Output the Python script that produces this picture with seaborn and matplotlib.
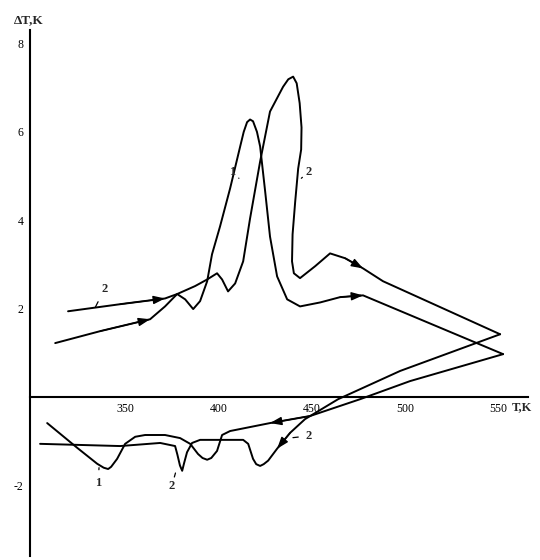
import matplotlib
matplotlib.use("Agg")
import matplotlib.pyplot as plt
import seaborn as sns
import pandas as pd

# DTA curves (T in K, dT in K)
# curve 1, heating
t1_heat = [312.5, 336.6, 363.4, 371.4, 377.9, 382.2, 386.5, 390.2, 394.0, 396.6,
           400.9, 406.3, 411.7, 413.6, 415.4, 417.0, 418.6, 420.7, 422.4, 425.1,
           427.7, 431.5, 436.9, 443.8, 454.6, 465.3, 477.6, 552.7]
d1_heat = [1.22, 1.49, 1.76, 2.05, 2.33, 2.21, 1.99, 2.17, 2.62, 3.23,
           3.86, 4.72, 5.67, 6.00, 6.22, 6.28, 6.24, 6.00, 5.67, 4.65,
           3.63, 2.73, 2.21, 2.05, 2.14, 2.26, 2.30, 0.97]
# curve 1, cooling
t1_cool = [552.7, 502.8, 476.0, 449.2, 427.7, 406.3, 402.0, 399.3, 396.2, 394.0,
           391.5, 389.1, 384.9, 379.5, 371.4, 360.7, 355.4, 350.0, 345.7, 342.5,
           340.9, 338.5, 335.0, 324.3, 308.2]
d1_cool = [0.97, 0.36, -0.05, -0.43, -0.59, -0.77, -0.86, -1.22, -1.38, -1.42,
           -1.38, -1.29, -1.06, -0.93, -0.86, -0.86, -0.90, -1.06, -1.40, -1.58,
           -1.63, -1.60, -1.51, -1.15, -0.59]
# curve 2, heating
t2_heat = [319.4, 347.3, 371.4, 377.9, 387.5, 394.0, 399.3, 402.0, 405.2, 409.0,
           413.3, 417.0, 422.4, 427.7, 434.7, 437.5, 440.1, 442.0, 443.6, 444.6,
           444.4, 442.8, 441.2, 439.8, 439.5, 440.5, 443.8, 451.9, 459.9, 468.0,
           477.6, 488.3, 551.1]
d2_heat = [1.94, 2.10, 2.23, 2.33, 2.51, 2.66, 2.80, 2.66, 2.39, 2.57,
           3.07, 4.04, 5.33, 6.46, 7.02, 7.19, 7.25, 7.10, 6.65, 6.10,
           5.60, 5.17, 4.42, 3.68, 3.07, 2.80, 2.69, 2.96, 3.25, 3.14,
           2.91, 2.62, 1.42]
# curve 2, cooling
t2_cool = [551.1, 497.5, 464.2, 446.5, 438.5, 431.5, 426.7, 424.3, 422.4, 420.3,
           418.6, 416.0, 413.3, 390.2, 385.9, 383.2, 381.6, 380.6, 379.4, 378.0,
           376.8, 368.8, 347.3, 304.4]
d2_cool = [1.42, 0.59, -0.05, -0.50, -0.81, -1.17, -1.44, -1.52, -1.56, -1.52,
           -1.40, -1.06, -0.97, -0.97, -1.04, -1.25, -1.50, -1.67, -1.55, -1.30,
           -1.11, -1.04, -1.11, -1.06]

x_ticks = [350, 400, 450, 500, 550]
y_ticks = [-2, 2, 4, 6, 8]

segments = [
    ("1", "heat", t1_heat, d1_heat),
    ("1", "cool", t1_cool, d1_cool),
    ("2", "heat", t2_heat, d2_heat),
    ("2", "cool", t2_cool, d2_cool),
]
frames = []
for curve, phase, t, d in segments:
    frames.append(pd.DataFrame({"T": t, "dT": d, "curve": curve, "phase": phase}))
df = pd.concat(frames, ignore_index=True)

sns.set_style("white")
plt.rcParams["font.family"] = ["Liberation Serif", "DejaVu Serif"]

fig = plt.figure(figsize=(5.4, 5.6), dpi=100)
ax = fig.add_axes([0.0556, 0.007, 0.922, 0.939])

for (curve, phase), g in df.groupby(["curve", "phase"], sort=False):
    sns.lineplot(data=g, x="T", y="dT", sort=False, estimator=None,
                 color="black", linewidth=1.4, ax=ax, legend=False)

# arrowheads show the run direction (index of the point the head sits on)
arrow_idx = {("1", "heat"): [2, 26], ("1", "cool"): [4], ("2", "heat"): [2, 30], ("2", "cool"): [5]}
for curve, phase, t, d in segments:
    for i in arrow_idx[(curve, phase)]:
        ax.annotate("", xy=(t[i], d[i]), xytext=(t[i - 1], d[i - 1]),
                    arrowprops=dict(arrowstyle="-|>,head_length=0.7,head_width=0.25",
                                    color="black", lw=1.0, shrinkA=0, shrinkB=0))

# curve numbers with leader strokes
labels = [
    ("2", (339, 2.45), (334, 2.03)),
    ("1", (407.5, 5.1), (411, 4.95)),
    ("2", (448.5, 5.1), (444.5, 4.95)),
    ("1", (335.5, -1.95), (336, -1.6)),
    ("2", (375.0, -2.02), (377, -1.72)),
    ("2", (448.5, -0.88), (440, -0.92)),
]
for txt, pos, tip in labels:
    ax.annotate(txt, xy=tip, xytext=pos, fontsize=9, fontweight="bold",
                ha="center", va="center",
                arrowprops=dict(arrowstyle="-", color="black", lw=0.9,
                                shrinkA=3, shrinkB=0))

ax.set_xlim(299, 566)
ax.set_ylim(-3.6, 8.3)
ax.spines["bottom"].set_position(("data", 0))
ax.spines["top"].set_visible(False)
ax.spines["right"].set_visible(False)
for s in ["left", "bottom"]:
    ax.spines[s].set_color("black")
    ax.spines[s].set_linewidth(1.5)

ax.set_xticks(x_ticks)
ax.set_yticks(y_ticks)
ax.set_xticklabels([str(v) for v in x_ticks], fontsize=8.5)
ax.set_yticklabels([str(v) for v in y_ticks], fontsize=8.5)
ax.tick_params(axis="both", direction="inout", length=5, width=1, pad=2, colors="black")
ax.set_xlabel("")
ax.set_ylabel("")

ax.text(568, -0.1, "T,K", fontsize=9, fontweight="bold", ha="right", va="top",
        transform=ax.transData, clip_on=False)
ax.text(-0.032, 1.008, "ΔT,K", fontsize=9.5, fontweight="bold", ha="left", va="bottom",
        transform=ax.transAxes)

fig.savefig("out.png", dpi=100)
